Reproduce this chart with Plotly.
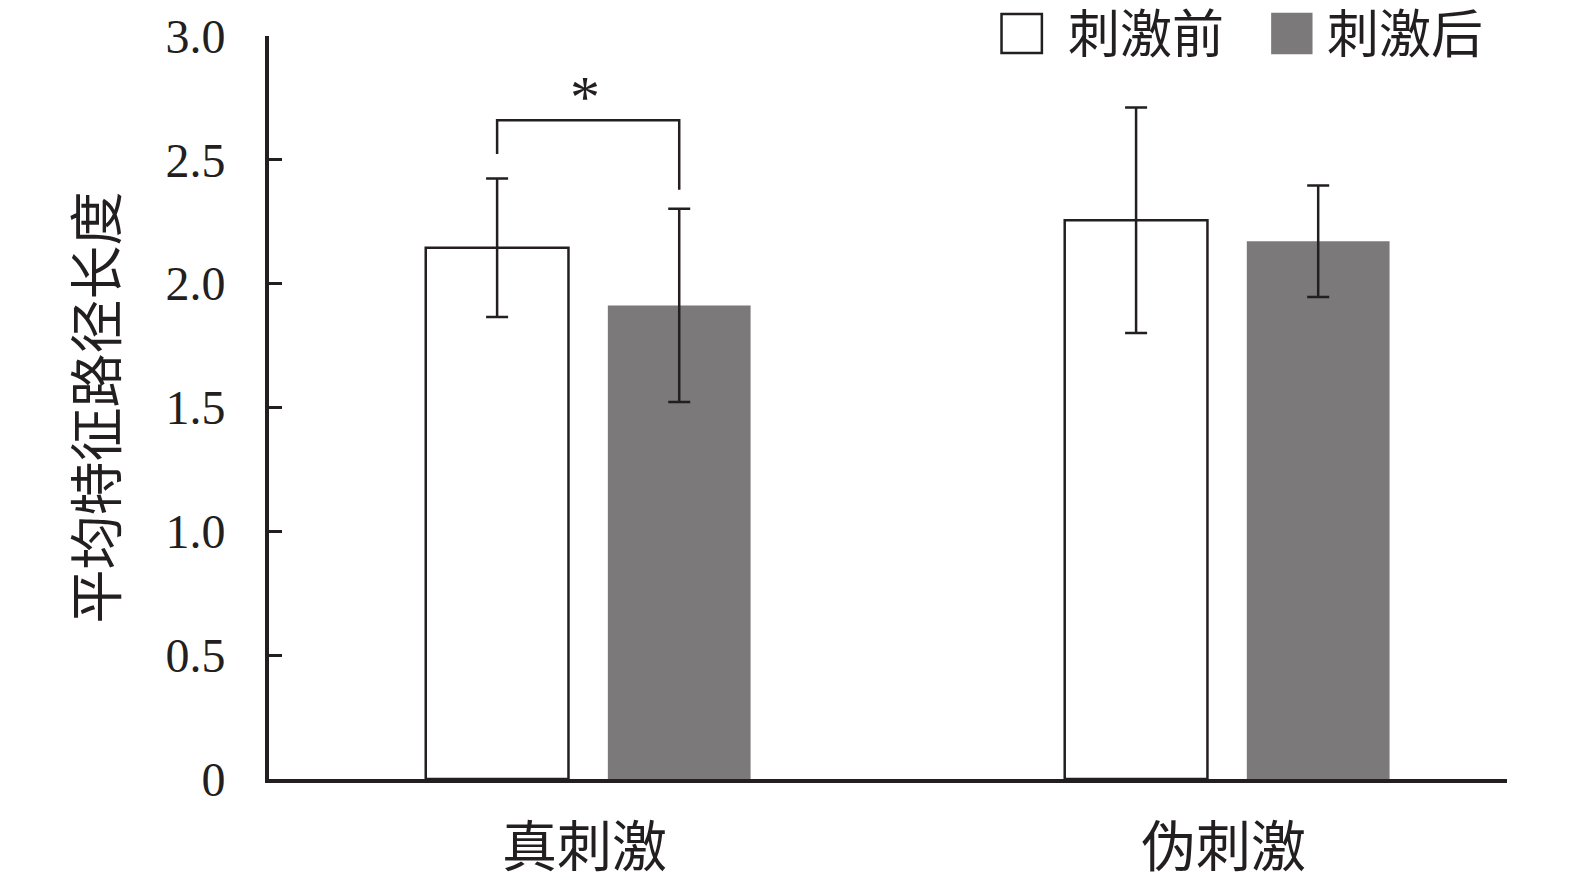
import plotly.graph_objects as go

# ---- data ----
categories = ["真刺激", "伪刺激"]
series_names = ["刺激前", "刺激后"]
before_vals = [2.145, 2.256]
before_err = [0.28, 0.455]
after_vals = [1.912, 2.171]
after_err = [0.39, 0.225]
y_tickvals = [0, 0.5, 1.0, 1.5, 2.0, 2.5, 3.0]
y_ticktext = ["0", "0.5", "1.0", "1.5", "2.0", "2.5", "3.0"]
y_title = "平均特征路径长度"
# significance bracket on 真刺激: left leg bottom, top, right leg bottom
sig_bracket = [2.524, 2.66, 2.379]
sig_label = "*"

# ---- styling ----
INK = "#231f20"
GRAY = "#7b797a"
FONT = "Liberation Serif, Noto Sans CJK SC, serif"
BAR_W = 0.2234
OFF_B = -0.143
OFF_A = 0.142

x_idx = list(range(len(categories)))

fig = go.Figure()
fig.add_trace(go.Bar(
    x=x_idx, y=before_vals, name=series_names[0],
    width=BAR_W, offset=OFF_B - BAR_W / 2,
    marker=dict(color="white", line=dict(color=INK, width=2.5)),
    error_y=dict(type="data", array=before_err, visible=True,
                 color=INK, thickness=2.5, width=11),
))
fig.add_trace(go.Bar(
    x=x_idx, y=after_vals, name=series_names[1],
    width=BAR_W, offset=OFF_A - BAR_W / 2,
    marker=dict(color=GRAY, line=dict(color=GRAY, width=0)),
    error_y=dict(type="data", array=after_err, visible=True,
                 color=INK, thickness=2.5, width=11),
))

# significance bracket
xl = x_idx[0] + OFF_B
xr = x_idx[0] + OFF_A
fig.add_shape(type="path",
              path=f"M {xl} {sig_bracket[0]} L {xl} {sig_bracket[1]} L {xr} {sig_bracket[1]} L {xr} {sig_bracket[2]}",
              xref="x", yref="y", line=dict(color=INK, width=2.5))
fig.add_annotation(x=x_idx[0] - 0.005, y=sig_bracket[1], yshift=-12, text=sig_label,
                   showarrow=False, xref="x", yref="y", yanchor="bottom",
                   font=dict(family=FONT, size=60, color=INK))

# custom legend (large square icons)
legend_items = [
    (0.5917, 0.6243, "white", INK, 0.6435, series_names[0]),
    (0.8105, 0.8419, GRAY, GRAY, 0.8532, series_names[1]),
]
for x0, x1, fill, lc, tx, label in legend_items:
    fig.add_shape(type="rect", xref="paper", yref="paper",
                  x0=x0, x1=x1, y0=0.977, y1=1.0296,
                  fillcolor=fill, line=dict(color=lc, width=2.5))
    fig.add_annotation(xref="paper", yref="paper", x=tx, y=1.0013,
                       xanchor="left", yanchor="middle", text=label,
                       showarrow=False,
                       font=dict(family=FONT, size=52, color=INK))

fig.update_layout(
    width=1575, height=886,
    margin=dict(l=261, r=76, t=28, b=115),
    paper_bgcolor="white", plot_bgcolor="white",
    barmode="overlay", showlegend=False,
    font=dict(family=FONT, color=INK),
)
fig.update_xaxes(
    tickmode="array", tickvals=x_idx, ticktext=categories,
    range=[-0.5, 1.4375], showgrid=False, zeroline=False,
    showline=True, linecolor=INK, linewidth=4, ticks="",
    tickfont=dict(family=FONT, size=55, color=INK),
    ticklabelstandoff=17, ticklabelshift=-4, automargin=False,
)
fig.update_yaxes(
    range=[0, 3.0], tickmode="array", tickvals=y_tickvals, ticktext=y_ticktext,
    showgrid=False, zeroline=False, showline=True, linecolor=INK, linewidth=4,
    ticks="inside", ticklen=13, tickwidth=3, tickcolor=INK,
    tickfont=dict(family=FONT, size=48, color=INK),
    ticklabelstandoff=30, automargin=False,
    title=dict(text=y_title, font=dict(family=FONT, size=54, color=INK), standoff=32),
)

fig.write_html("out.html")
